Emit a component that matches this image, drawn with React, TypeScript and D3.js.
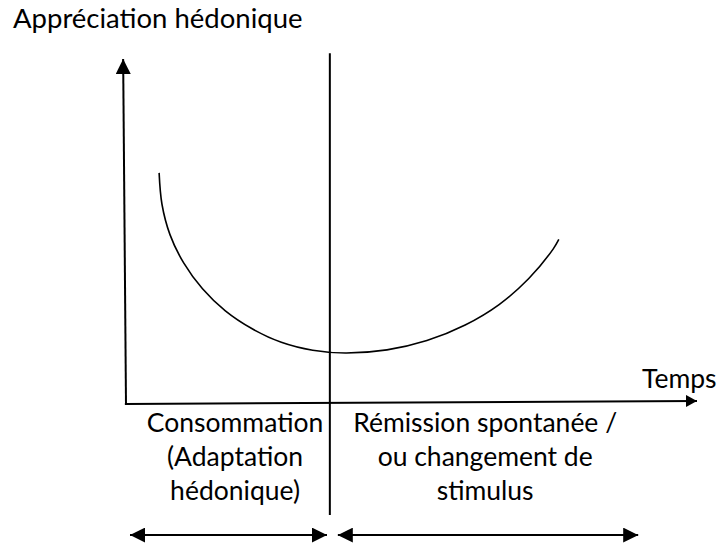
import React from 'react';
import * as d3 from 'd3';

// hedonic curve: time (0-100) vs appreciation (0-100)
const curveTime = [5.8, 6.3, 7.7, 10.1, 13.4, 17.4, 22.1, 27.2, 32.7, 38.4, 45.7, 52.7, 59.4, 65.4, 70.5, 74.8, 75.8];
const curveValue = [67.0, 57.9, 49.1, 40.9, 33.4, 27.0, 21.8, 17.9, 15.6, 14.8, 15.7, 18.4, 22.9, 28.9, 36.3, 44.9, 47.7];

// axis and divider ends, same units
const yAxisEnds = [[0, -0.3], [-0.5, 100]];
const xAxisEnds = [[-0.2, 0], [100, 0.9]];
const dividerTime = 35.7;
const dividerRange = [-32.2, 101.7];

// phases below the time axis
const phaseLabels = [
  ['Consommation', '(Adaptation', 'hédonique)'],
  ['Rémission spontanée /', 'ou changement de', 'stimulus'],
];
const phaseCenters = [19.1, 62.9];
const phaseStarts = [0.7, 37.1];
const phaseEnds = [35.2, 89.7];
const phaseArrowLevel = -38;

const yTitle = 'Appréciation hédonique';
const xTitle = 'Temps';

const width = 723;
const height = 545;
const font = 'Lato, "Open Sans", sans-serif';

export default function App() {
  const x = d3.scaleLinear().domain([0, 100]).range([126, 697]);
  const y = d3.scaleLinear().domain([0, 100]).range([404, 59]);

  const pts: [number, number][] = curveTime.map((t, i) => [t, curveValue[i]]);
  const line = d3.line<[number, number]>()
    .x(d => x(d[0]))
    .y(d => y(d[1]))
    .curve(d3.curveCatmullRom.alpha(0.5));

  const seg = (e: number[][]) => ({ x1: x(e[0][0]), y1: y(e[0][1]), x2: x(e[1][0]), y2: y(e[1][1]) });
  const baseY = y(0);

  return (
    <svg width={width} height={height} style={{ position: 'absolute', left: 0, top: 0, background: '#fff' }}>
      <defs>
        <marker id="headBig" markerUnits="userSpaceOnUse" viewBox="0 0 15 15" refX="15" refY="7.5"
          markerWidth={15} markerHeight={15} orient="auto-start-reverse">
          <path d="M0,0 L15,7.5 L0,15 Z" fill="#000" />
        </marker>
        <marker id="headSmall" markerUnits="userSpaceOnUse" viewBox="0 0 11 12" refX="11" refY="6"
          markerWidth={11} markerHeight={12} orient="auto-start-reverse">
          <path d="M0,0 L11,6 L0,12 Z" fill="#000" />
        </marker>
      </defs>

      {/* axes */}
      <line {...seg(yAxisEnds)} stroke="#000" strokeWidth={2} markerEnd="url(#headBig)" />
      <line {...seg(xAxisEnds)} stroke="#000" strokeWidth={2} markerEnd="url(#headSmall)" />

      {/* divider between phases */}
      <line x1={x(dividerTime)} x2={x(dividerTime)} y1={y(dividerRange[0])} y2={y(dividerRange[1])}
        stroke="#000" strokeWidth={2} />

      {/* curve */}
      <path d={line(pts) || ''} fill="none" stroke="#000" strokeWidth={1.6} />

      {/* titles */}
      <text x={13} y={28} fontFamily={font} fontSize={27.5} fill="#000">{yTitle}</text>
      <text x={642} y={388} fontFamily={font} fontSize={26.5} fill="#000">{xTitle}</text>

      {/* phases */}
      {phaseLabels.map((lines, i) => (
        <g key={i}>
          {lines.map((s, j) => (
            <text key={j} x={x(phaseCenters[i])} y={baseY + 28 + j * 34} textAnchor="middle"
              fontFamily={font} fontSize={26.5} fill="#000">{s}</text>
          ))}
          <line x1={x(phaseStarts[i])} x2={x(phaseEnds[i])} y1={y(phaseArrowLevel)} y2={y(phaseArrowLevel)}
            stroke="#000" strokeWidth={2} markerStart="url(#headBig)" markerEnd="url(#headBig)" />
        </g>
      ))}
    </svg>
  );
}
